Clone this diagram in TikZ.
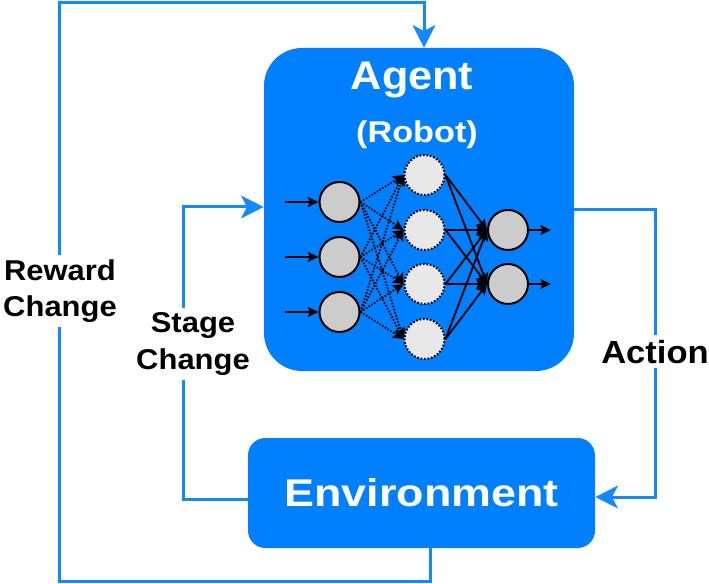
\documentclass[tikz,border=0pt]{standalone}
\usepackage{fontspec}
\setmainfont{Liberation Sans}
\newfontfamily\lblf[FakeStretch=1.08]{Liberation Sans}
\newfontfamily\robf[FakeStretch=1.14]{Liberation Sans}
\newfontfamily\envf[FakeStretch=1.16]{Liberation Sans}
\usetikzlibrary{arrows.meta}
\definecolor{boxblue}{RGB}{0,128,255}
\definecolor{lineblue}{RGB}{20,136,255}
\definecolor{ngray}{RGB}{204,204,204}
\definecolor{hgray}{RGB}{232,232,232}
\begin{document}
\begin{tikzpicture}[x=0.75pt,y=-0.75pt,
  box/.style={fill=boxblue, draw=none, inner sep=0pt},
  conn/.style={draw=lineblue, line width=2.25pt, line join=miter,
    -{Stealth[length=17pt,width=17pt,inset=4.5pt]}},
  lbl/.style={fill=white, inner sep=3.5pt, align=center,
    font=\lblf\bfseries\fontsize{21.5}{27.5}\selectfont},
  neuron/.style={circle, draw=black, line width=1.5pt, fill=ngray, inner sep=0pt, minimum size=30pt},
  hidden/.style={neuron, fill=hgray, dash pattern=on 1.3pt off 1.3pt},
  nnarrow/.style={draw=black, line width=1.4pt, -{Stealth[length=8pt,width=7.5pt,inset=1.5pt]}},
  nndot/.style={nnarrow, dash pattern=on 1.2pt off 1.2pt},
]
\useasboundingbox[fill=white] (0,0) rectangle (709,584);

% boxes
\node[box, rounded corners=28.5pt, minimum width=232.5pt, minimum height=242.25pt] (agent) at (419,209.5) {};
\node[box, rounded corners=13pt, minimum width=260.25pt, minimum height=82.5pt, text=white,
  font=\envf\bfseries\fontsize{29}{34}\selectfont] (env) at (421.5,493) {Environment};
\node[anchor=base, text=white, inner sep=0pt, font=\lblf\bfseries\fontsize{30}{35}\selectfont] (agentlbl) at (412,90) {Agent};
\node[anchor=base, text=white, inner sep=0pt, font=\robf\bfseries\fontsize{22.5}{26}\selectfont] (robot) at (417,143) {(Robot)};

% neural network
\foreach \i/\y in {1/202,2/257,3/312} {
  \node[neuron] (i\i) at (339.5,\y) {};
  \coordinate (s\i) at (285,\y);
}
\foreach \j/\y in {1/175,2/230,3/284,4/339} \node[hidden] (h\j) at (424.5,\y) {};
\foreach \k/\y in {1/230,2/284} {
  \node[neuron] (o\k) at (508,\y) {};
  \coordinate (e\k) at (551,\y);
}
\foreach \i in {1,2,3} \draw[nnarrow] (s\i) -- (i\i);
\foreach \k in {1,2} \draw[nnarrow] (o\k) -- (e\k);
\foreach \i in {1,2,3} \foreach \j in {1,2,3,4} \draw[nndot] (i\i.east) -- (h\j.west);
\foreach \j in {1,2,3,4} \foreach \k in {1,2} \draw[nnarrow] (h\j.east) -- (o\k.west);

% connectors
\coordinate (rb) at (430,581);
\coordinate (rl) at (59,581);
\coordinate (rtl) at (59,3);
\coordinate (rt) at (424,3);
\draw[conn] (env.south -| rb) -- (rb) -- (rl) -- (rtl) -- (rt) -- (agent.north -| rt);

\coordinate (sb) at (183,499);
\coordinate (st) at (183,207);
\draw[conn] (env.west |- sb) -- (sb) -- (st) -- (agent.west |- st);

\coordinate (at) at (655,210);
\coordinate (ab) at (655,497);
\draw[conn] (agent.east |- at) -- (at) -- (ab) -- (env.east |- ab);

% labels
\node[lbl] (reward) at (60,291) {Reward\\Change};
\node[lbl] (stage) at (193,344) {Stage\\Change};
\node[lbl, anchor=base, font=\lblf\bfseries\fontsize{24}{28}\selectfont] (action) at (655,363) {Action};
\end{tikzpicture}
\end{document}
